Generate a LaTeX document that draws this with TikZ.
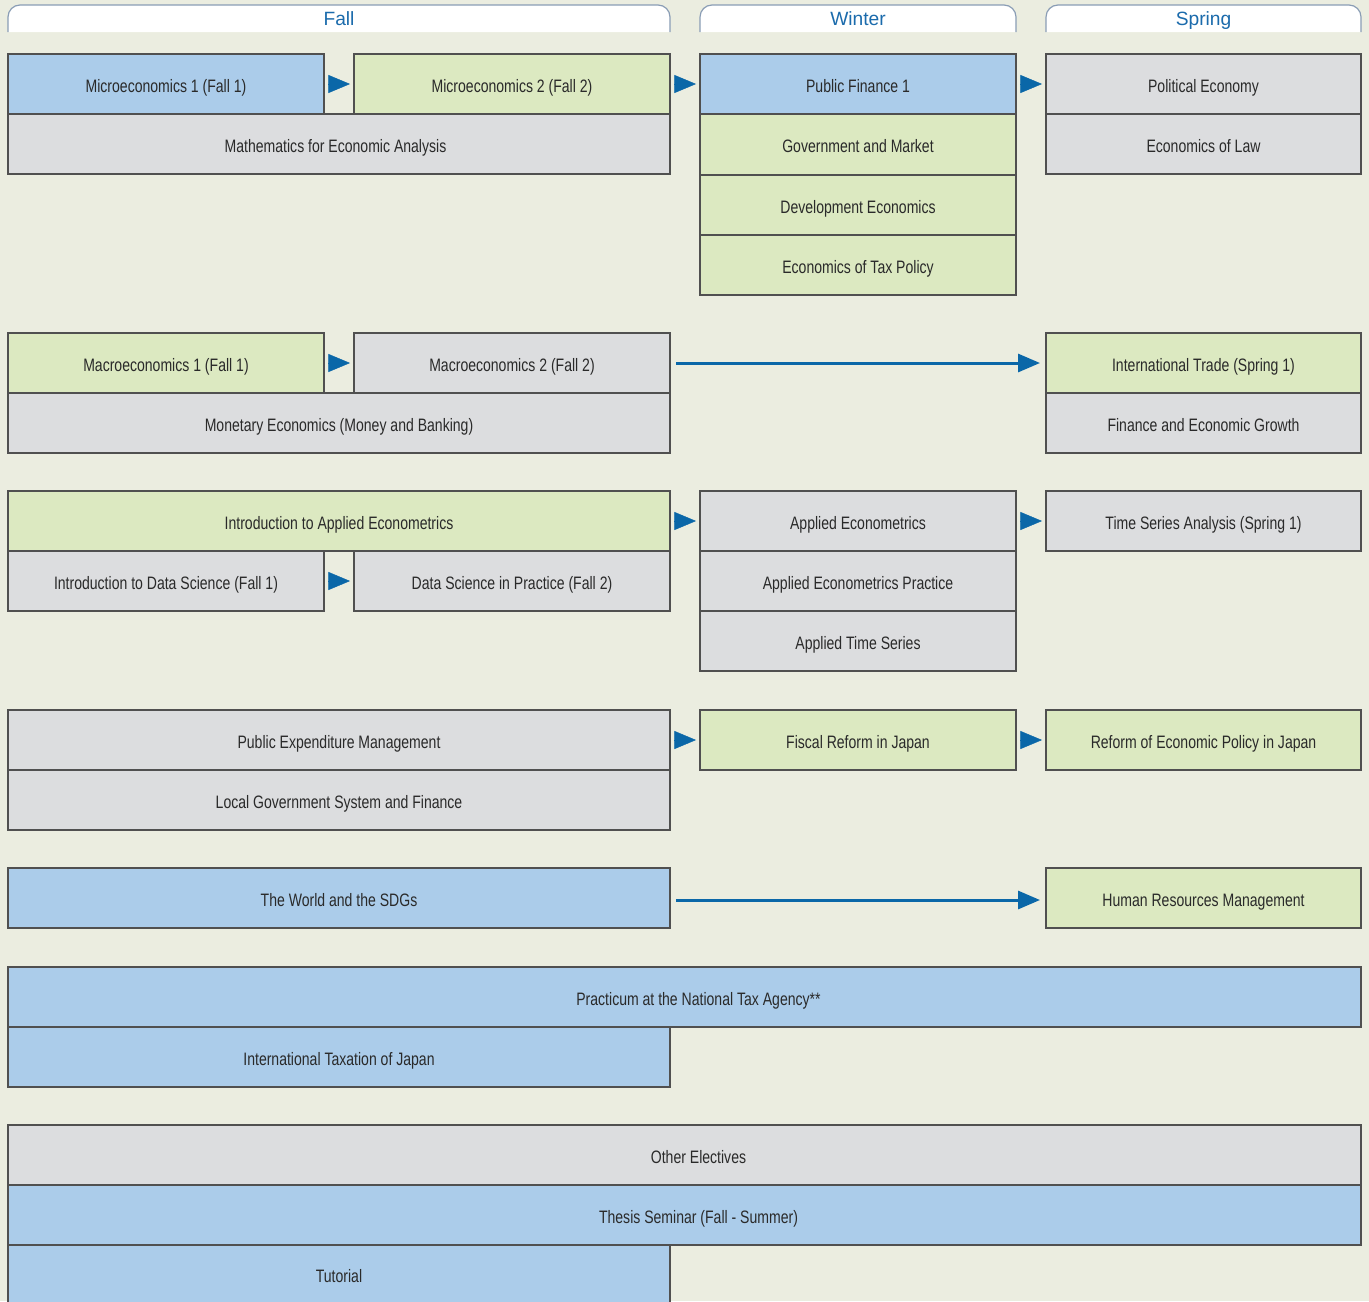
\documentclass[tikz,border=0pt]{standalone}
\usepackage{fontspec}
\usetikzlibrary{arrows.meta}
\newfontfamily\cfont[FakeStretch=0.78]{Liberation Sans}
\newfontfamily\hfont{Liberation Sans}
\definecolor{bgcol}{HTML}{EBEDE0}
\definecolor{cblue}{HTML}{ABCCEA}
\definecolor{cgreen}{HTML}{DCE9C1}
\definecolor{cgray}{HTML}{DCDDDF}
\definecolor{bordercol}{HTML}{505050}
\definecolor{textcol}{HTML}{2A2A2A}
\definecolor{arrowblue}{HTML}{0A67A8}
\definecolor{tabline}{HTML}{8A9DB5}
\definecolor{headtext}{HTML}{1B6BAC}
\tikzset{
  box/.style={draw=bordercol, line width=0.6pt, inner sep=0pt, outer sep=0pt, text=textcol,
    text height=9.1pt, text depth=1pt, font=\cfont\fontsize{9}{10}\selectfont},
  bl/.style={box, fill=cblue},
  gr/.style={box, fill=cgreen},
  gy/.style={box, fill=cgray},
  tri/.style={draw=arrowblue, line width=0.2pt, -{Triangle[length=10.8pt,width=9pt,fill=arrowblue]}, shorten <=2pt, shorten >=2pt},
  longarr/.style={draw=arrowblue, line width=1.5pt, -{Triangle[length=11pt,width=9pt,fill=arrowblue]}, shorten <=3pt, shorten >=3pt},
  tab/.style={draw=tabline, line width=0.6pt, fill=white, rounded corners=6pt},
  tabtext/.style={text=headtext, font=\hfont\fontsize{9.6}{10}\selectfont, inner sep=0pt, anchor=base}
}
\newcommand\crsbox[7]{%
  \pgfmathsetmacro\crsw{(#5-#3)*0.5}%
  \pgfmathsetmacro\crsh{(#6-#4)*0.5}%
  \node[#1, minimum width=\crsw pt, minimum height=\crsh pt, anchor=north west] (#2) at (#3,#4) {#7};}
\begin{document}
\begin{tikzpicture}[x=0.5pt,y=-0.5pt]
\fill[bgcol] (0,0) rectangle (1369,1301);
\useasboundingbox (0,0) rectangle (1369,1301);
\clip (0,0) rectangle (1369,1301);
% headers
\filldraw[tab] (8,32) -- (8,5) -- (670,5) -- (670,32);
\filldraw[tab] (700,32) -- (700,5) -- (1016,5) -- (1016,32);
\filldraw[tab] (1046,32) -- (1046,5) -- (1361,5) -- (1361,32);
\node[tabtext] (hfall) at (339,25.5) {Fall};
\node[tabtext] (hwinter) at (858,25.5) {Winter};
\node[tabtext] (hspring) at (1203.5,25.5) {Spring};
% row 1
\crsbox{bl}{micro1}{8}{54}{324}{114}{Microeconomics 1 (Fall 1)}
\crsbox{gr}{micro2}{354}{54}{670}{114}{Microeconomics 2 (Fall 2)}
\crsbox{gy}{math}{8}{114}{670}{174}{Mathematics for Economic Analysis\hspace*{3.5pt}}
\crsbox{bl}{pf1}{700}{54}{1016}{114}{Public Finance 1}
\crsbox{gr}{govmkt}{700}{114}{1016}{175}{Government and Market}
\crsbox{gr}{dev}{700}{175}{1016}{235}{Development Economics}
\crsbox{gr}{tax}{700}{235}{1016}{295}{Economics of Tax Policy}
\crsbox{gy}{polecon}{1046}{54}{1361}{114}{Political Economy}
\crsbox{gy}{law}{1046}{114}{1361}{174}{Economics of Law}
% row 2
\crsbox{gr}{macro1}{8}{333}{324}{393}{Macroeconomics 1 (Fall 1)}
\crsbox{gy}{macro2}{354}{333}{670}{393}{Macroeconomics 2 (Fall 2)}
\crsbox{gy}{monetary}{8}{393}{670}{453}{Monetary Economics (Money and Banking)}
\crsbox{gr}{trade}{1046}{333}{1361}{393}{International Trade (Spring 1)}
\crsbox{gy}{growth}{1046}{393}{1361}{453}{Finance and Economic Growth}
% row 3
\crsbox{gr}{introae}{8}{491}{670}{551}{Introduction to Applied Econometrics}
\crsbox{gy}{introds}{8}{551}{324}{611}{Introduction to Data Science (Fall 1)}
\crsbox{gy}{dsp}{354}{551}{670}{611}{Data Science in Practice (Fall 2)}
\crsbox{gy}{ae}{700}{491}{1016}{551}{Applied Econometrics}
\crsbox{gy}{aep}{700}{551}{1016}{611}{Applied Econometrics Practice}
\crsbox{gy}{ats}{700}{611}{1016}{671}{Applied Time Series}
\crsbox{gy}{tsa}{1046}{491}{1361}{551}{Time Series Analysis (Spring 1)}
% row 4
\crsbox{gy}{pem}{8}{710}{670}{770}{Public Expenditure Management}
\crsbox{gy}{local}{8}{770}{670}{830}{Local Government System and Finance}
\crsbox{gr}{fiscal}{700}{710}{1016}{770}{Fiscal Reform in Japan}
\crsbox{gr}{reform}{1046}{710}{1361}{770}{Reform of Economic Policy in Japan}
% row 5
\crsbox{bl}{sdgs}{8}{868}{670}{928}{The World and the SDGs}
\crsbox{gr}{hrm}{1046}{868}{1361}{928}{Human Resources Management}
% row 6
\crsbox{bl}{practicum}{8}{967}{1361}{1027}{\hspace*{14pt}Practicum at the National Tax Agency**}
\crsbox{bl}{intltax}{8}{1027}{670}{1087}{International Taxation of Japan}
% row 7
\crsbox{gy}{other}{8}{1125}{1361}{1185}{\hspace*{14pt}Other Electives}
\crsbox{bl}{thesis}{8}{1185}{1361}{1245}{\hspace*{14pt}Thesis Seminar (Fall - Summer)}
\crsbox{bl}{tutorial}{8}{1245}{670}{1303}{Tutorial}
% arrows
\draw[tri] (micro1.east) -- (micro2.west);
\draw[tri] (micro2.east) -- (pf1.west);
\draw[tri] (pf1.east) -- (polecon.west);
\draw[tri] (macro1.east) -- (macro2.west);
\draw[longarr] (macro2.east) -- (trade.west);
\draw[tri] (introae.east) -- (ae.west);
\draw[tri] (ae.east) -- (tsa.west);
\draw[tri] (introds.east) -- (dsp.west);
\draw[tri] (pem.east) -- (fiscal.west);
\draw[tri] (fiscal.east) -- (reform.west);
\draw[longarr] ([yshift=-1pt]sdgs.east) -- ([yshift=-1pt]hrm.west);
\end{tikzpicture}
\end{document}
